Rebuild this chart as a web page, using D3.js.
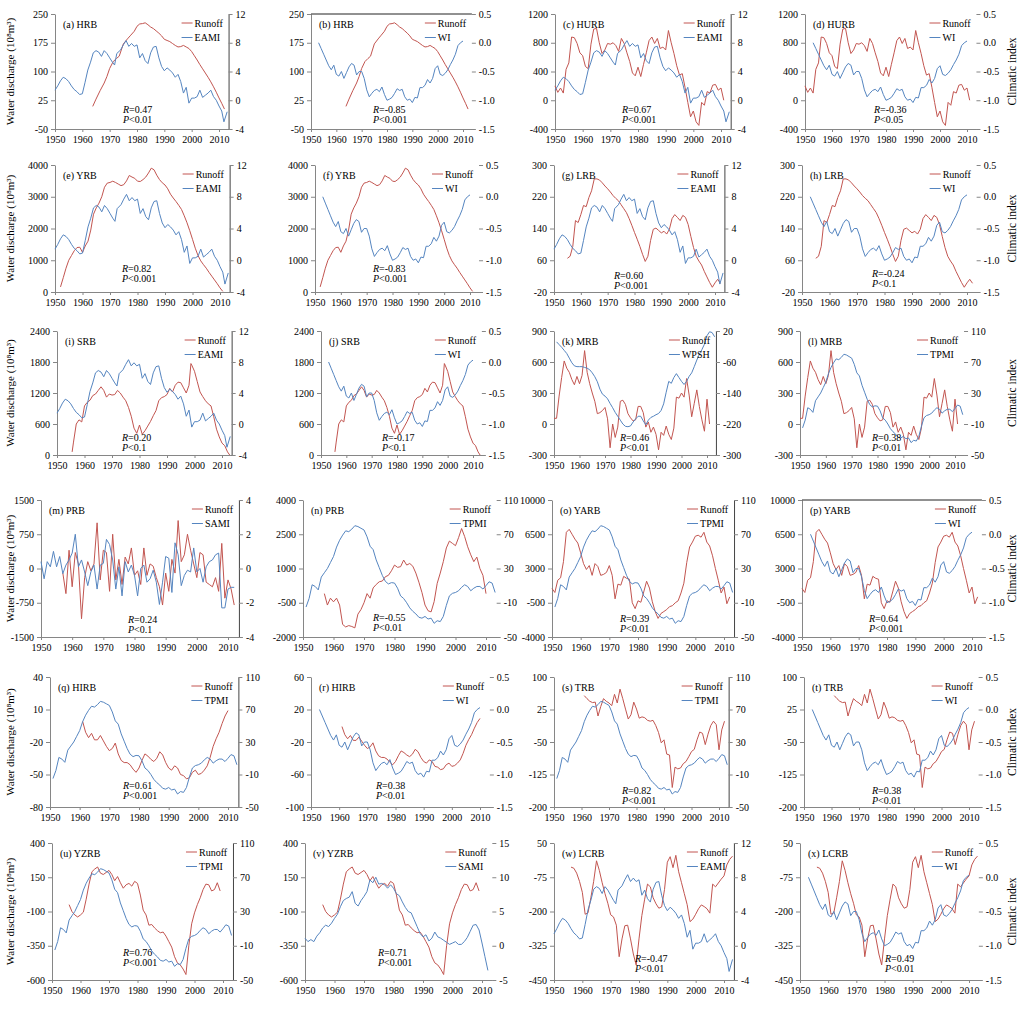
<!DOCTYPE html>
<html><head><meta charset="utf-8">
<script src="https://cdn.jsdelivr.net/npm/d3@7"></script>
<style>body{margin:0;background:#fff}text{font-family:"Liberation Serif","Times New Roman",serif;fill:#000}</style>
</head><body><svg id="c" width="1024" height="1011"></svg>
<script>
// ---------------- DATA ----------------
const PANEL_IDS = ['a','b','c','d','e','f','g','h','i','j','k','l','m','n','o','p','q','r','s','t','u','v','w','x'];
const BASINS = ['HRB','HRB','HURB','HURB','YRB','YRB','LRB','LRB','SRB','SRB','MRB','MRB','PRB','PRB','YARB','YARB','HIRB','HIRB','TRB','TRB','YZRB','YZRB','LCRB','LCRB'];
const INDEX_NAMES = ['EAMI','WI','EAMI','WI','EAMI','WI','EAMI','WI','EAMI','WI','WPSH','TPMI','SAMI','TPMI','TPMI','WI','TPMI','WI','TPMI','WI','TPMI','SAMI','EAMI','WI'];
const R_VALUES = ['0.47','-0.85','0.67','-0.36','0.82','-0.83','0.60','-0.24','0.20','-0.17','0.46','0.38','0.24','-0.55','0.39','0.64','0.61','0.38','0.82','0.38','0.76','0.71','-0.47','0.49'];
const P_VALUES = ['0.01','0.001','0.001','0.05','0.001','0.001','0.001','0.1','0.1','0.1','0.01','0.01','0.1','0.01','0.01','0.001','0.001','0.01','0.001','0.01','0.001','0.001','0.01','0.01'];
const YEAR_TICKS = [1950,1960,1970,1980,1990,2000,2010];

const LEFT_TICKS = [
 [-50,25,100,175,250],[-50,25,100,175,250],
 [-400,0,400,800,1200],[-400,0,400,800,1200],
 [0,1000,2000,3000,4000],[0,1000,2000,3000,4000],
 [-20,60,140,220,300],[-20,60,140,220,300],
 [0,600,1200,1800,2400],[0,600,1200,1800,2400],
 [-300,0,300,600,900],[-300,0,300,600,900],
 [-1500,-750,0,750,1500],[-2000,-500,1000,2500,4000],
 [-4000,-500,3000,6500,10000],[-4000,-500,3000,6500,10000],
 [-80,-50,-20,10,40],[-100,-60,-20,20,60],
 [-200,-125,-50,25,100],[-200,-125,-50,25,100],
 [-600,-350,-100,150,400],[-600,-350,-100,150,400],
 [-450,-325,-200,-75,50],[-450,-325,-200,-75,50]];
const EAMI_TICKS = [-4,0,4,8,12];
const WI_TICKS = [-1.5,-1.0,-0.5,0.0,0.5];
const WPSH_TICKS = [-300,-220,-140,-60,20];
const TPMI_TICKS = [-50,-10,30,70,110];
const SAMI_ANNUAL_TICKS = [-4,-2,0,2,4];
const SAMI_SMOOTH_TICKS = [-5,0,5,10,15];

// climatic indices
const EAMI = [[1950,1.4],[1951,2.0],[1952,2.7],[1953,3.2],[1954,3.0],[1955,2.6],[1956,2.0],[1957,1.5],[1958,1.2],[1959,0.8],[1960,0.9],[1961,2.5],[1962,4.2],[1963,5.3],[1964,6.6],[1965,6.9],[1966,6.7],[1967,6.1],[1968,6.9],[1969,6.5],[1970,5.9],[1971,5.3],[1971.8,4.9],[1972.6,6.5],[1974,7.0],[1975,7.7],[1976,8.3],[1977,7.5],[1978,7.9],[1979,7.5],[1980,7.7],[1981,5.9],[1982,6.5],[1983,5.5],[1984,5.1],[1985,6.6],[1986,7.4],[1987,7.5],[1988,5.9],[1989,4.7],[1990,4.1],[1991,4.5],[1992,4.2],[1993,3.8],[1994,3.2],[1995,3.6],[1996,2.6],[1997,1.0],[1998,1.8],[1999,-0.4],[2000,0.3],[2001,0.3],[2002,0.5],[2003,1.4],[2004,0.4],[2005,0.7],[2006,1.0],[2007,1.4],[2008,0.5],[2009,0.0],[2010,-0.8],[2011,-1.5],[2011.8,-3.0],[2013,-1.6]];
const WI = [[1953,0.0],[1954,-0.1],[1955,-0.2],[1956,-0.3],[1957,-0.4],[1958,-0.47],[1959,-0.39],[1960,-0.55],[1961,-0.58],[1962,-0.5],[1963,-0.62],[1964,-0.52],[1965,-0.42],[1966,-0.36],[1967,-0.39],[1968,-0.56],[1969,-0.5],[1970,-0.5],[1971,-0.62],[1972,-0.82],[1973,-0.94],[1974,-0.88],[1975,-0.83],[1976,-0.81],[1977,-0.85],[1978,-0.77],[1979,-0.9],[1980,-1.0],[1981,-0.98],[1982,-0.95],[1983,-0.88],[1984,-0.8],[1985,-0.83],[1986,-0.81],[1987,-0.94],[1988,-1.0],[1989,-0.98],[1990,-1.04],[1991,-0.95],[1992,-0.96],[1993,-0.78],[1994,-0.78],[1995,-0.74],[1996,-0.64],[1997,-0.7],[1998,-0.62],[1999,-0.45],[2000,-0.4],[2001,-0.55],[2002,-0.57],[2003,-0.53],[2004,-0.47],[2005,-0.38],[2006,-0.3],[2007,-0.2],[2008,-0.05],[2009,0.0],[2010,0.03]];
const TPMI = [[1951,-15],[1952,-5],[1953,11],[1954,9],[1955,5],[1956,20],[1957,25],[1958,30],[1959,37],[1960,44],[1961,55],[1962,63],[1963,69],[1964,74],[1965,73],[1966,76],[1967,80],[1968,79],[1969,77],[1970,75],[1971,67],[1972,56],[1973,52],[1974,40],[1975,31],[1976,22],[1977,15],[1978,12],[1979,13.5],[1980,13],[1981,7],[1982,-2],[1983,-5],[1984,-10],[1985,-16],[1986,-20],[1987,-23],[1988,-27],[1989,-28],[1990,-26],[1991,-29],[1992,-28],[1993,-34],[1994,-31],[1995,-32],[1996,-26],[1997,-13],[1998,-2],[1999,1],[2000,2],[2001,4],[2002,8],[2003,11],[2004,9],[2005,4],[2006,7],[2007,9],[2008,9],[2009,6],[2010,10],[2011,14.5],[2012,13],[2013,2]];
const WPSH = [[1951,-8],[1952,-15],[1953,-22],[1954,-30],[1955,-38],[1956,-50],[1957,-62],[1958,-70],[1959,-72],[1960,-72],[1961,-72],[1962,-74],[1963,-76],[1964,-80],[1965,-88],[1966,-98],[1967,-111],[1968,-130],[1969,-143],[1970,-148],[1971,-155],[1972,-167],[1973,-178],[1974,-190],[1975,-200],[1976,-210],[1977,-220],[1978,-226],[1979,-227],[1980,-225],[1981,-215],[1982,-207],[1983,-200],[1984,-200],[1985,-212],[1986,-222],[1987,-210],[1988,-203],[1989,-200],[1990,-196],[1991,-193],[1992,-185],[1993,-168],[1994,-138],[1995,-110],[1996,-115],[1997,-100],[1998,-90],[1999,-100],[2000,-110],[2001,-118],[2002,-110],[2003,-97],[2004,-88],[2005,-72],[2006,-55],[2007,-40],[2008,-28],[2009,-14],[2010,8],[2011,18],[2012,16],[2013,5]];
const SAMI_ANNUAL = [[1950,0.4],[1951,-0.6],[1952,0.4],[1953,0.1],[1954,1.0],[1955,0.1],[1956,0.7],[1957,-0.3],[1958,0.2],[1959,0.5],[1960,0.9],[1961,2.0],[1962,0.1],[1963,0.5],[1964,-0.2],[1965,-1.0],[1966,-0.2],[1967,0.2],[1968,-1.2],[1969,0.2],[1970,0.3],[1971,1.7],[1972,1.4],[1973,0.5],[1974,-1.2],[1975,0.1],[1976,-1.6],[1977,0.4],[1978,-0.2],[1979,0.2],[1980,-0.4],[1981,-1.6],[1982,0.0],[1983,0.2],[1984,-0.8],[1985,-0.6],[1986,-0.1],[1987,-0.8],[1988,-2.1],[1989,-0.8],[1990,0.7],[1991,0.6],[1992,-1.4],[1993,1.5],[1994,0.8],[1995,-1.0],[1996,-0.4],[1997,-0.1],[1998,-0.2],[1999,1.2],[2000,-0.2],[2001,0.0],[2002,-0.8],[2003,0.1],[2004,0.4],[2005,0.5],[2006,0.8],[2007,0.9],[2008,-2.3],[2009,-2.3],[2010,-1.2],[2011,-1.1],[2012,-1.1]];
const SAMI_SMOOTH = [[1950,1.1],[1951,0.6],[1952,0.9],[1953,0.6],[1954,1.4],[1955,1.9],[1956,2.6],[1957,3.0],[1958,2.8],[1959,3.3],[1960,4.0],[1961,4.6],[1962,5.7],[1963,6.6],[1964,6.9],[1965,7.1],[1966,7.9],[1967,6.2],[1968,5.8],[1969,6.6],[1970,7.2],[1971,7.9],[1972,9.6],[1973,9.2],[1974,10.0],[1975,9.0],[1976,9.1],[1977,8.9],[1978,8.4],[1979,8.9],[1980,8.4],[1981,7.6],[1982,7.3],[1983,6.4],[1984,5.6],[1985,5.0],[1986,4.8],[1987,3.8],[1988,2.8],[1989,1.8],[1990,1.3],[1991,1.6],[1992,0.7],[1993,1.1],[1994,2.0],[1995,1.3],[1996,1.1],[1997,0.8],[1998,0.5],[1999,0.2],[2000,0.4],[2001,0.6],[2002,0.2],[2003,0.2],[2004,0.6],[2005,1.2],[2006,2.1],[2007,3.0],[2008,3.1],[2009,2.3],[2010,0.4],[2011,-1.6],[2012,-3.6]];

// runoff series (10^8 m^3)
const HRB = [[1963.8,9],[1965,28],[1966.5,50],[1968,70],[1969,87],[1970,108],[1971.3,126],[1972.5,134],[1973.5,140],[1975,172],[1976.5,185],[1977.5,193],[1979,205],[1980,218],[1981,224],[1982,225],[1983,227],[1984,222],[1985,216],[1986,212],[1987,206],[1988,200],[1989,193],[1990,184],[1991,181],[1992,178],[1993,173],[1994,168],[1995,164],[1996,165],[1997,168],[1998,164],[1999,160],[2000,152],[2001,141],[2002,130],[2003,118],[2004,107],[2005,96],[2006,85],[2007,73],[2008,60],[2009,46],[2010,31],[2011,17],[2012,2]];
const HURB = [[1950,200],[1951,110],[1952,170],[1953,100],[1954,430],[1955,520],[1956,880],[1957,870],[1958,790],[1959,660],[1960,620],[1961,470],[1962,440],[1963,780],[1964,990],[1965,1000],[1966,800],[1967,650],[1968,700],[1969,790],[1970,780],[1971,800],[1972,760],[1973,680],[1974,860],[1975,790],[1976,660],[1977,540],[1978,380],[1979,340],[1980,460],[1981,330],[1982,500],[1983,660],[1984,830],[1985,880],[1986,790],[1987,860],[1988,720],[1989,740],[1990,700],[1991,970],[1992,800],[1993,650],[1994,480],[1995,350],[1996,370],[1997,180],[1998,-30],[1999,-230],[2000,-150],[2001,-300],[2002,-350],[2003,-30],[2004,-70],[2005,120],[2006,100],[2007,210],[2008,220],[2009,140],[2010,170],[2011,0]];
const YRB = [[1952,160],[1953,450],[1954,750],[1955,1000],[1956,1150],[1957,1300],[1958,1400],[1959,1410],[1960,1250],[1961,1450],[1962,1600],[1963,1950],[1964,2450],[1965,2650],[1966,2800],[1967,3000],[1968,3300],[1969,3430],[1970,3450],[1971,3490],[1972,3450],[1973,3400],[1974,3350],[1975,3380],[1976,3500],[1977,3670],[1978,3620],[1979,3580],[1980,3490],[1981,3480],[1982,3540],[1983,3620],[1984,3750],[1985,3900],[1986,3850],[1987,3680],[1988,3540],[1989,3440],[1990,3370],[1991,3250],[1992,3080],[1993,2960],[1994,2850],[1995,2730],[1996,2600],[1997,2400],[1998,2180],[1999,1930],[2000,1660],[2001,1380],[2002,1150],[2003,980],[2004,860],[2005,750],[2006,620],[2007,500],[2008,380],[2009,260],[2010,130],[2011,20]];
const LRB = [[1955,65],[1956,70],[1957,95],[1958,160],[1959,155],[1960,175],[1961,198],[1962,195],[1963,218],[1964,235],[1965,265],[1966,265],[1967,262],[1968,255],[1969,247],[1970,240],[1971,232],[1972,223],[1973,216],[1974,210],[1975,200],[1976,190],[1977,180],[1978,165],[1979,148],[1980,130],[1981,113],[1982,95],[1983,75],[1984,57],[1985,70],[1986,110],[1987,138],[1988,141],[1989,135],[1990,129],[1991,133],[1992,126],[1993,138],[1994,165],[1995,175],[1996,168],[1997,160],[1998,173],[1999,168],[2000,150],[2001,120],[2002,92],[2003,70],[2004,58],[2005,48],[2006,32],[2007,18],[2008,4],[2009,-8],[2010,3],[2011,12],[2012,2]];
const SRB = [[1955.5,60],[1956,250],[1957,600],[1958,680],[1959,640],[1960,950],[1961,1020],[1962,1060],[1963,1150],[1964,1180],[1965,1250],[1966,1320],[1967,1250],[1968,1120],[1969,1180],[1970,1160],[1971,1170],[1972,1250],[1973,1200],[1974,1120],[1975,1050],[1976,920],[1977,750],[1978,520],[1979,420],[1980,580],[1981,400],[1982,470],[1983,560],[1984,650],[1985,760],[1986,860],[1987,1050],[1988,1110],[1989,1130],[1990,1170],[1991,1290],[1992,1220],[1993,1350],[1994,1410],[1995,1400],[1996,1300],[1997,1200],[1998,1350],[1998.7,1770],[1999,1740],[2000,1620],[2001,1420],[2002,1220],[2003,1130],[2004,1050],[2005,990],[2006,950],[2007,740],[2008,500],[2009,350],[2010,230],[2011,180],[2012,60],[2012.8,0]];
const MRB = [[1950,55],[1951,55],[1952,270],[1953,450],[1954,610],[1955,540],[1956,500],[1957,430],[1958,380],[1959,460],[1960,390],[1961,470],[1962,710],[1963,500],[1964,390],[1965,300],[1966,220],[1967,100],[1968,110],[1969,130],[1970,160],[1971,50],[1972,-230],[1973,0],[1974,-130],[1975,-30],[1976,220],[1977,230],[1978,190],[1979,100],[1980,60],[1981,30],[1982,40],[1983,170],[1984,170],[1985,110],[1986,-30],[1987,20],[1988,-80],[1989,-30],[1990,-100],[1991,-250],[1992,-80],[1993,-110],[1994,-20],[1995,-100],[1996,-150],[1997,-40],[1998,260],[1999,250],[2000,300],[2001,260],[2002,440],[2003,280],[2004,70],[2005,200],[2006,330],[2007,170],[2008,40],[2009,-70],[2010,240],[2011,0]];
const PRB_ANNUAL = [[1957,-100],[1958,-550],[1959,400],[1960,-400],[1961,350],[1962,100],[1963,-1100],[1964,-200],[1965,150],[1966,-50],[1967,100],[1968,1000],[1969,-250],[1970,400],[1971,350],[1972,-500],[1973,750],[1974,-250],[1975,200],[1976,-350],[1977,250],[1978,100],[1979,450],[1980,-150],[1981,-50],[1982,-350],[1983,450],[1984,-150],[1985,100],[1986,50],[1987,-200],[1988,-400],[1989,-800],[1990,-100],[1991,-500],[1992,200],[1993,-100],[1994,1050],[1995,150],[1996,300],[1997,750],[1998,400],[1999,100],[2000,-200],[2001,350],[2002,300],[2003,-300],[2004,-350],[2005,-400],[2006,-200],[2007,-500],[2008,550],[2009,-650],[2010,-250],[2011,-450],[2012,-800]];
const PRB_SMOOTH = [[1957,-100],[1958,-600],[1959,-300],[1960,-460],[1961,-300],[1962,-600],[1963,-1450],[1964,-1560],[1965,-1500],[1966,-1540],[1967,-1600],[1968,-1000],[1969,-800],[1970,-500],[1971,-100],[1972,-300],[1973,150],[1974,300],[1975,420],[1976,450],[1977,640],[1978,700],[1979,900],[1980,1150],[1981,1050],[1982,1080],[1983,1370],[1984,1150],[1985,1220],[1986,1100],[1987,800],[1988,400],[1989,-50],[1990,-600],[1991,-850],[1992,-900],[1993,-450],[1994,350],[1995,800],[1996,1300],[1997,1900],[1998,2200],[1999,2100],[2000,2000],[2001,2350],[2002,2750],[2003,2400],[2004,1950],[2005,1600],[2006,1300],[2007,1500],[2008,1000],[2009,700],[2010,-100]];
const YARB = [[1950,950],[1951,550],[1952,1800],[1953,2050],[1954,3700],[1955,6700],[1956,7000],[1957,6500],[1958,6000],[1959,5600],[1960,4600],[1961,3500],[1962,2900],[1963,3300],[1964,2300],[1965,3500],[1966,3200],[1967,2300],[1968,2400],[1969,2600],[1970,3300],[1971,2300],[1972,-100],[1973,1400],[1974,1300],[1975,2200],[1976,2000],[1977,1900],[1978,-500],[1979,-1100],[1980,-300],[1981,-450],[1982,600],[1983,1700],[1984,1000],[1985,-400],[1986,-1400],[1987,-2100],[1988,-1600],[1989,-1400],[1990,-1200],[1991,-900],[1992,-800],[1993,-500],[1994,-300],[1995,500],[1996,1500],[1997,3600],[1998,5200],[1999,5700],[2000,6300],[2001,6400],[2002,6200],[2003,6700],[2004,5700],[2005,5300],[2006,4300],[2007,3000],[2008,1800],[2009,500],[2010,1100],[2011,-600],[2012,100]];
const HIRB = [[1961,-1],[1962,-11],[1963,-16],[1964,-12],[1965,-18],[1966,-18],[1967,-14],[1968,-19],[1969,-24],[1970,-28],[1971,-26],[1972,-21],[1973,-31],[1974,-37],[1975,-39],[1976,-39],[1977,-41],[1978,-45],[1979,-48],[1980,-44],[1981,-37],[1982,-31],[1983,-33],[1984,-36],[1985,-38],[1986,-35],[1987,-29],[1988,-32],[1989,-39],[1990,-44],[1991,-46],[1992,-42],[1993,-44],[1994,-50],[1995,-51],[1996,-54],[1997,-53],[1998,-48],[1999,-46],[2000,-50],[2001,-49],[2002,-46],[2003,-42],[2004,-34],[2005,-24],[2006,-17],[2007,-11],[2008,-3],[2009,4],[2010,9]];
const TRB = [[1961,57],[1962,50],[1963,44],[1964,41],[1965,42],[1966,10],[1967,32],[1968,50],[1969,44],[1970,40],[1971,34],[1972,60],[1973,40],[1974,72],[1975,50],[1976,26],[1977,3],[1978,13],[1979,42],[1980,26],[1981,5],[1982,8],[1983,6],[1984,0],[1985,-2],[1986,0],[1987,-12],[1988,-28],[1989,-52],[1990,-45],[1991,-78],[1992,-80],[1993,-155],[1994,-108],[1995,-112],[1996,-110],[1997,-100],[1998,-95],[1999,-84],[2000,-72],[2001,-67],[2002,-45],[2003,-27],[2004,-30],[2005,-56],[2006,-32],[2007,-12],[2008,-2],[2009,-10],[2010,-68],[2011,-22],[2012,-2]];
const YZRB = [[1956,-50],[1957,-100],[1958,-125],[1959,-140],[1960,-125],[1961,-105],[1962,-10],[1963,100],[1964,190],[1965,210],[1966,225],[1967,180],[1968,170],[1969,185],[1970,200],[1971,170],[1972,125],[1973,155],[1974,110],[1975,70],[1976,95],[1977,105],[1978,85],[1979,120],[1980,105],[1981,20],[1982,-90],[1983,-125],[1984,-200],[1985,-195],[1986,-220],[1987,-240],[1988,-255],[1989,-250],[1990,-280],[1991,-320],[1992,-360],[1993,-430],[1994,-475],[1995,-490],[1996,-520],[1997,-560],[1998,-350],[1999,-190],[2000,-110],[2001,-50],[2002,0],[2003,60],[2004,100],[2005,95],[2006,50],[2007,60],[2008,110],[2009,50]];
const LCRB = [[1956,-38],[1957,-42],[1958,-60],[1959,-90],[1960,-130],[1961,-210],[1962,-205],[1963,-150],[1964,-90],[1965,-15],[1966,-50],[1967,-95],[1968,-135],[1969,-170],[1970,-212],[1971,-220],[1972,-250],[1973,-365],[1974,-300],[1975,-252],[1976,-250],[1977,-300],[1978,-355],[1979,-395],[1980,-300],[1981,-215],[1982,-155],[1983,-100],[1984,-110],[1985,-150],[1986,-172],[1987,-188],[1988,-183],[1989,-120],[1990,-20],[1991,0],[1992,-40],[1993,5],[1994,-55],[1995,-95],[1996,-135],[1997,-175],[1998,-237],[1999,-228],[2000,-210],[2001,-190],[2002,-176],[2003,-182],[2004,-190],[2005,-206],[2006,-100],[2007,-110],[2008,-96],[2009,-82],[2010,-70],[2011,-30],[2012,-10],[2013,2]];

const RUNOFF_BY_PANEL = [HRB,HRB,HURB,HURB,YRB,YRB,LRB,LRB,SRB,SRB,MRB,MRB,PRB_ANNUAL,PRB_SMOOTH,YARB,YARB,HIRB,HIRB,TRB,TRB,YZRB,YZRB,LCRB,LCRB];
const INDEX_BY_PANEL = [EAMI,WI,EAMI,WI,EAMI,WI,EAMI,WI,EAMI,WI,WPSH,TPMI,SAMI_ANNUAL,TPMI,TPMI,WI,TPMI,WI,TPMI,WI,TPMI,SAMI_SMOOTH,EAMI,WI];
const RIGHT_TICKS = [EAMI_TICKS,WI_TICKS,EAMI_TICKS,WI_TICKS,EAMI_TICKS,WI_TICKS,EAMI_TICKS,WI_TICKS,EAMI_TICKS,WI_TICKS,WPSH_TICKS,TPMI_TICKS,SAMI_ANNUAL_TICKS,TPMI_TICKS,TPMI_TICKS,WI_TICKS,TPMI_TICKS,WI_TICKS,TPMI_TICKS,WI_TICKS,TPMI_TICKS,SAMI_SMOOTH_TICKS,EAMI_TICKS,WI_TICKS];

// ---------------- LAYOUT ----------------
const X_DOMAIN = [1950, 2013.5];
const ROW_Y = [[14,129],[165,292],[331,455],[500,637],[677,807],[843,980]];
const PANEL_X = [[55,219],[311,463],[555,721],[805,967],[55,220],[315,470],[554,715],[802,967],[57,222],[321,473],[554,707],[800,955],[41,228],[303,486],[552,724],[802,972],[50,228],[311,480],[554,719],[804,969],[52,223],[305,482],[554,724],[800,969]];
const ANNOT_POS = [[123,109],[373,109],[622,109],[874,109],[122,268],[373,268],[614,275],[872,273],[122,437],[382,437],[620,437],[872,437],[128,619],[373,617],[620,618],[869,618],[123,785],[376,785],[622,790],[872,790],[123,952],[378,952],[635,958],[885,958]];
const TOP_LINE = ['b','p'];
const RED = '#C25550', BLUE = '#5585C0', AXIS = '#868686';

const svg = d3.select('#c');
const fmtTick = d => (Number.isInteger(d) ? String(d) : d.toFixed(1));
const fmtWI = d => d.toFixed(1);

PANEL_IDS.forEach((id, i) => {
  const row = Math.floor(i / 4), col = i % 4;
  const [T, B] = ROW_Y[row];
  const [L, X10] = PANEL_X[i];
  const R = L + (X10 - L) * (X_DOMAIN[1] - 1950) / 60;
  const lt = LEFT_TICKS[i], rt = RIGHT_TICKS[i];
  const x = d3.scaleLinear().domain(X_DOMAIN).range([L, R]);
  const yl = d3.scaleLinear().domain([lt[0], lt[lt.length-1]]).range([B, T]);
  const yr = d3.scaleLinear().domain([rt[0], rt[rt.length-1]]).range([B, T]);
  const g = svg.append('g');

  // axes
  const gx = g.append('g').attr('transform', `translate(0,${B})`)
    .call(d3.axisBottom(x).tickValues(YEAR_TICKS).tickFormat(d3.format('d')).tickSize(3).tickSizeOuter(0).tickPadding(4));
  const gl = g.append('g').attr('transform', `translate(${L},0)`)
    .call(d3.axisLeft(yl).tickValues(lt).tickFormat(fmtTick).tickSize(4).tickSizeOuter(0).tickPadding(3));
  const isWI = rt === WI_TICKS;
  const gr = g.append('g').attr('transform', `translate(${R},0)`)
    .call(d3.axisRight(yr).tickValues(rt).tickFormat(isWI ? fmtWI : fmtTick).tickSize(4).tickSizeOuter(0).tickPadding(3));
  [gx, gl, gr].forEach(a => {
    a.selectAll('.domain').attr('stroke', AXIS);
    a.selectAll('.tick line').attr('stroke', AXIS);
    a.selectAll('text').style('font-family', '"Liberation Serif","Times New Roman",serif').style('font-size', '10px').attr('fill', '#000');
  });
  if (col === 1 || col === 3) gr.select('.domain').remove();
  else gr.select('.domain').attr('stroke', '#444');
  if (TOP_LINE.includes(id)) g.append('line').attr('x1', L).attr('x2', R).attr('y1', T).attr('y2', T).attr('stroke', '#222');

  // series
  const lineL = d3.line().x(d => x(d[0])).y(d => yl(d[1]));
  const lineR = d3.line().x(d => x(d[0])).y(d => yr(d[1]));
  g.append('path').datum(RUNOFF_BY_PANEL[i]).attr('d', lineL).attr('fill', 'none').attr('stroke', RED).attr('stroke-width', 1);
  g.append('path').datum(INDEX_BY_PANEL[i]).attr('d', lineR).attr('fill', 'none').attr('stroke', BLUE).attr('stroke-width', 1);

  // panel label
  g.append('text').attr('x', L + 8).attr('y', T + 14).style('font-size', '10px').text(`(${id}) ${BASINS[i]}`);

  // legend
  const lx = R - 34;
  [[RED, 'Runoff', T + 9], [BLUE, INDEX_NAMES[i], T + 23.5]].forEach(([c, t, yy]) => {
    g.append('line').attr('x1', lx - 13).attr('x2', lx - 2).attr('y1', yy).attr('y2', yy).attr('stroke', c).attr('stroke-width', 1);
    g.append('text').attr('x', lx).attr('y', yy + 3.5).style('font-size', '10px').text(t);
  });

  // R / P annotation
  const [ax, ay] = ANNOT_POS[i];
  const tR = g.append('text').attr('x', ax).attr('y', ay + 3.5).style('font-size', '10px');
  tR.append('tspan').style('font-style', 'italic').text('R');
  tR.append('tspan').text('=' + R_VALUES[i]);
  const tP = g.append('text').attr('x', ax).attr('y', ay + 13.5).style('font-size', '10px');
  tP.append('tspan').style('font-style', 'italic').text('P');
  tP.append('tspan').text('<' + P_VALUES[i]);

  // axis titles
  if (col === 0) {
    g.append('text').attr('transform', `translate(14,${(T + B) / 2}) rotate(-90)`).attr('text-anchor', 'middle')
      .style('font-size', '11px').text('Water discharge (10\u2078m\u00B3)');
  }
  if (col === 3) {
    g.append('text').attr('transform', `translate(1016,${(T + B) / 2}) rotate(-90)`).attr('text-anchor', 'middle')
      .style('font-size', '11.5px').text('Climatic index');
  }
});
</script></body></html>
